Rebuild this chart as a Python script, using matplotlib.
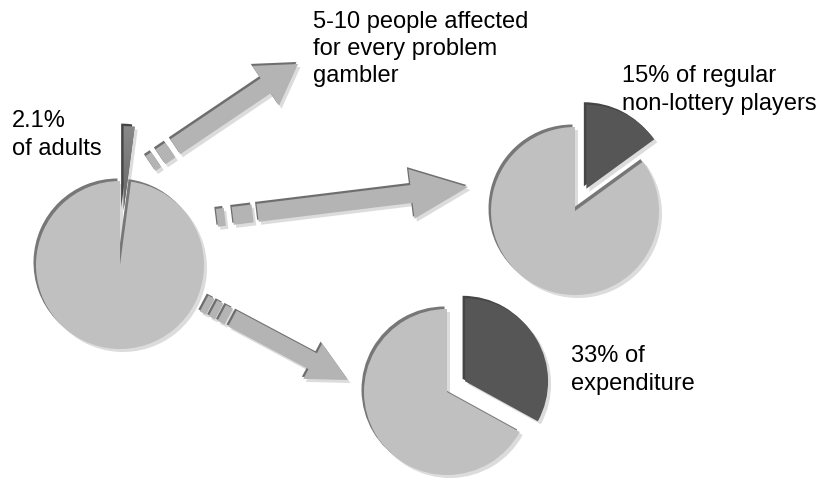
import numpy as np
import matplotlib.pyplot as plt
from matplotlib.patches import Polygon

W, H = 822, 478

# ---- data
shares = [2.1, 15, 33]          # highlighted share (%) in each pie
pie_labels = [["2.1%", "of adults"],
              ["15% of regular", "non-lottery players"],
              ["33% of", "expenditure"]]
note_lines = ["5-10 people affected", "for every problem", "gambler"]

# ---- layout (pixel coords, y measured from the top)
pie_centers = [(120, 265), (575, 211), (447, 392)]
pie_radius = [84, 84, 83]
pie_explode = [55, 25, 21]
label_pos = [(12, 127), (622, 82), (571, 362)]
note_pos = (313, 28)
LINE = 28

# arrows: tip, direction (deg, y up), head length/width, shaft width/length, dash pieces
arrows = [
    dict(tip=(298, 64), ang=34, hl=39, hw=48, sw=18, L=148, dashes=[(154, 166), (171, 178)]),
    dict(tip=(468, 187), ang=7, hl=57, hw=50, sw=18, L=212, dashes=[(217, 237), (245, 253)]),
    dict(tip=(348, 380), ang=-28, hl=40, hw=40, sw=18, L=131, dashes=[(135, 143), (146, 153), (156, 163)]),
]

LIGHT = "#c0c0c0"
DARK = "#565656"
RIM = "#777777"
SHADE = "#dcdcdc"
ARROW = "#b4b4b4"
FONT = dict(family="Liberation Sans", fontsize=17, color="black")


def up(y):
    return H - y


fig = plt.figure(figsize=(W / 100, H / 100), dpi=100)
ax = fig.add_axes([0, 0, 1, 1])

# pies: light shadow (down-right), dark rim (up-left), then the pie itself
for i, (share, (cx, cy), r, ex) in enumerate(zip(shares, pie_centers, pie_radius, pie_explode)):
    vals = [share, 100 - share]
    layers = [((3, -3), [SHADE, SHADE], 1),
              ((-2.5, 2.5), ["#454545", RIM], 2),
              ((0, 0), [DARK, LIGHT], 3)]
    for (dx, dy), cols, z in layers:
        wedges, _ = ax.pie(vals, explode=[ex, 0], colors=cols, startangle=90,
                           counterclock=False, radius=r, center=(cx + dx, up(cy) + dy),
                           frame=True, wedgeprops=dict(linewidth=0))
        for w in wedges:
            w.set_zorder(z)
        if i == 0 and z == 3:
            # small exploded slice has a vertical shading
            grad = np.linspace(0, 1, 64).reshape(-1, 1)
            im = ax.imshow(grad, cmap=plt.cm.colors.LinearSegmentedColormap.from_list(
                "g", ["#8a8a8a", "#4c4c4c"]), extent=(cx - 20, cx + 30, up(cy) - 10, up(cy) + ex + r + 5),
                origin="upper", zorder=3.5, aspect="auto")
            im.set_clip_path(wedges[0])


def arrow_polys(a):
    t = np.radians(a["ang"])
    d = np.array([np.cos(t), np.sin(t)])
    n = np.array([-np.sin(t), np.cos(t)])
    tip = np.array([a["tip"][0], up(a["tip"][1])])

    def pt(u, v):
        return tip - u * d + v * n

    hl, hw, sw, L = a["hl"], a["hw"], a["sw"], a["L"]
    polys = [[pt(0, 0), pt(hl, hw / 2), pt(hl, sw / 2), pt(L, sw / 2),
              pt(L, -sw / 2), pt(hl, -sw / 2), pt(hl, -hw / 2)]]
    for a0, a1 in a["dashes"]:
        polys.append([pt(a0, sw / 2), pt(a1, sw / 2), pt(a1, -sw / 2), pt(a0, -sw / 2)])
    return polys


for a in arrows:
    for poly in arrow_polys(a):
        poly = np.array(poly)
        ax.add_patch(Polygon(poly + [2.5, -3], closed=True, fc=SHADE, lw=0, zorder=4))
        ax.add_patch(Polygon(poly + [-1.5, 2], closed=True, fc="#6e6e6e", lw=0, zorder=5))
        ax.add_patch(Polygon(poly, closed=True, fc=ARROW, lw=0, zorder=6))

# text
for lines, (x, y) in zip(pie_labels, label_pos):
    for k, s in enumerate(lines):
        ax.text(x, up(y + k * LINE), s, ha="left", va="baseline", zorder=10, **FONT)
for k, s in enumerate(note_lines):
    ax.text(note_pos[0], up(note_pos[1] + k * 27), s, ha="left", va="baseline", zorder=10, **FONT)

ax.set_xlim(0, W)
ax.set_ylim(0, H)
ax.set_aspect("auto")
ax.axis("off")
fig.savefig("out.png", dpi=100)
